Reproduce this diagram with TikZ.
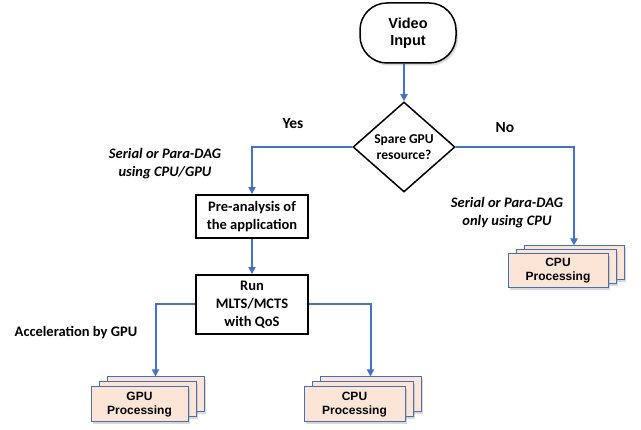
\documentclass[tikz,border=0pt]{standalone}
\usepackage{fontspec}
\setmainfont{Carlito}
\newfontfamily\arialf{Liberation Sans}
\usetikzlibrary{shapes.geometric,arrows.meta,shadows}
\definecolor{arrowblue}{HTML}{4472C4}
\definecolor{peach}{HTML}{FBE5D6}
\definecolor{stackborder}{HTML}{4A6EB0}
\tikzset{
  flow/.style={draw=arrowblue, line width=2pt, -{Triangle[length=7pt,width=7pt]}},
  plainbox/.style={draw=black, line width=1.8pt, fill=white, align=center, inner sep=0pt,
    font=\fontsize{14.5}{18}\bfseries\selectfont},
  procbox/.style={draw=stackborder, line width=1pt, fill=peach, align=center, inner sep=0pt,
    drop shadow={opacity=0.3, shadow xshift=2pt, shadow yshift=-2.5pt},
    font=\arialf\fontsize{12}{14}\bfseries\selectfont},
  lbl/.style={align=center, inner sep=0pt, font=\fontsize{14.5}{18}\bfseries\selectfont},
  ilbl/.style={align=center, inner sep=0pt, font=\fontsize{14.5}{18}\bfseries\itshape\selectfont},
}
\begin{document}
\begin{tikzpicture}[x=1pt,y=-1pt]
\useasboundingbox (0,0) rectangle (641,430);

% start terminator
\node[draw=black, line width=1.5pt, fill=white, rounded corners=27pt,
      minimum width=96pt, minimum height=60pt, inner sep=0pt, align=center,
      drop shadow={opacity=0.3, shadow xshift=2pt, shadow yshift=-2.5pt},
      font=\arialf\fontsize{14.5}{17}\bfseries\selectfont] (vid) at (408,33) {Video\\Input};

% decision
\node[draw=black, line width=1.5pt, fill=white, shape=diamond, inner sep=0pt,
      minimum width=102pt, minimum height=90pt, align=center,
      font=\fontsize{13.5}{16}\bfseries\selectfont] (dia) at (404,147) {Spare GPU\\resource?};

% process boxes
\node[plainbox, minimum width=112pt, minimum height=43pt] (pre) at (252,216.5) {Pre-analysis of\\the application};
\node[plainbox, minimum width=112pt, minimum height=59pt] (run) at (252,304.5) {Run\\MLTS/MCTS\\with QoS};

% right CPU stack
\node[procbox, minimum width=100pt, minimum height=34pt] (cpuab) at (574,263) {};
\node[procbox, minimum width=100pt, minimum height=34pt] (cpuam) at (566,267) {};
\node[procbox, minimum width=100pt, minimum height=34pt] (cpua) at (558,271) {CPU\\Processing};

% GPU stack
\node[procbox, minimum width=97pt, minimum height=35pt] (gpub) at (155.5,394.5) {};
\node[procbox, minimum width=97pt, minimum height=35pt] (gpum) at (147.5,399.5) {};
\node[procbox, minimum width=97pt, minimum height=35pt] (gpu) at (139.5,404.5) {GPU\\Processing};

% bottom CPU stack
\node[procbox, minimum width=101pt, minimum height=35pt] (cpubb) at (370.5,394.5) {};
\node[procbox, minimum width=101pt, minimum height=35pt] (cpubm) at (362.5,399.5) {};
\node[procbox, minimum width=101pt, minimum height=35pt] (cpub) at (354.5,404.5) {CPU\\Processing};

% labels
\node[lbl, font=\fontsize{15.5}{18}\bfseries\selectfont] (yes) at (293,124) {Yes};
\node[lbl, font=\fontsize{15.5}{18}\bfseries\selectfont] (no) at (505,128) {No};
\node[ilbl] (ser1) at (165,164) {Serial or Para-DAG\\using CPU/GPU};
\node[ilbl] (ser2) at (507,213) {Serial or Para-DAG\\only using CPU};
\node[lbl] (acc) at (76,333) {Acceleration by GPU};

% connectors
\draw[flow] (vid.south -| dia.north) -- (dia.north);
\draw[flow] (dia.west) -| (pre.north);
\draw[flow] (dia.east) -| (cpuab.north);
\draw[flow] (pre.south) -- (run.north);
\draw[flow] (run.west) -| (gpub.north);
\draw[flow] (run.east) -| (cpubb.north);
\end{tikzpicture}
\end{document}
